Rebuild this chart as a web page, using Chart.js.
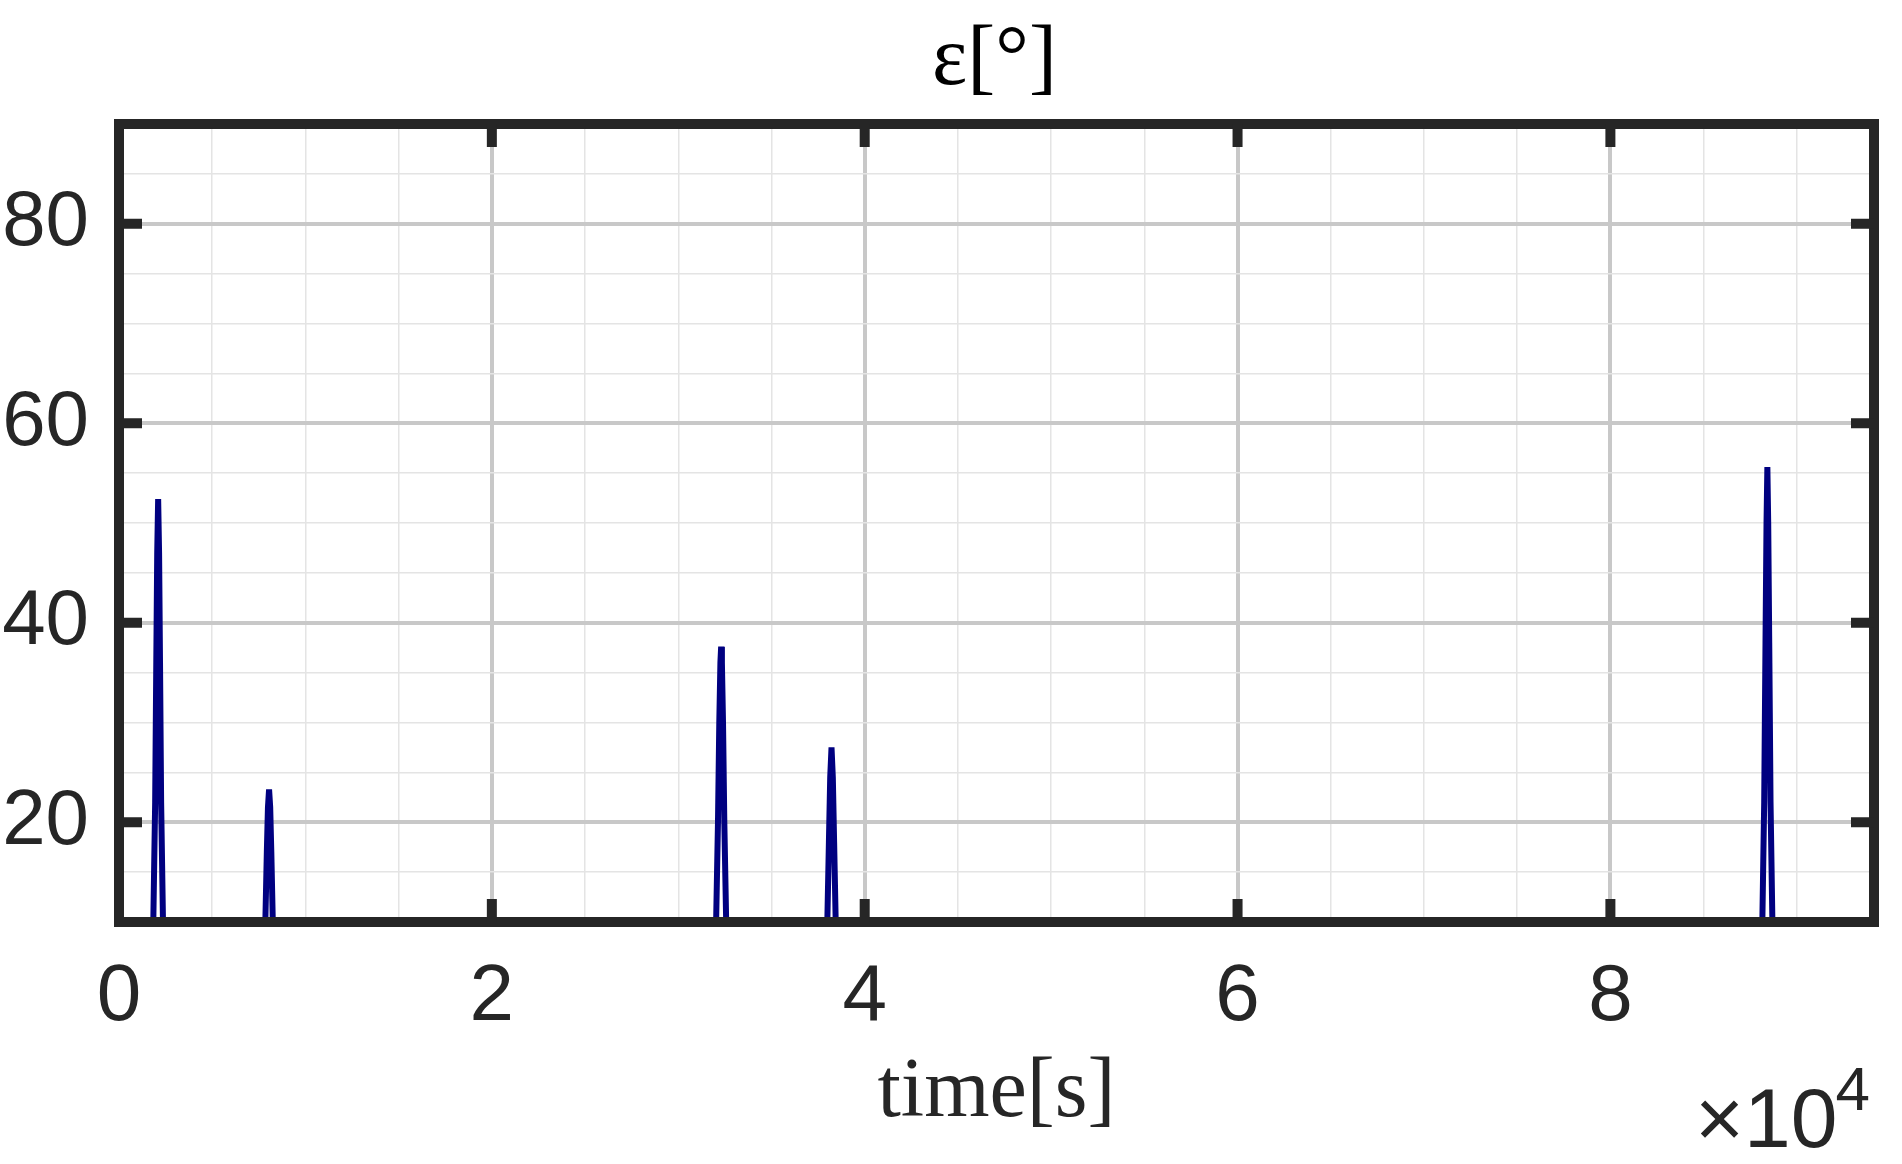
<!DOCTYPE html>
<html>
<head>
<meta charset="utf-8">
<script src="https://cdn.jsdelivr.net/npm/chart.js@4/dist/chart.umd.min.js"></script>
<style>
  html, body { margin: 0; padding: 0; background: #fff; }
  canvas { display: block; }
</style>
</head>
<body>
<canvas id="grafico" width="1902" height="1164"></canvas>
<script>
// elevation passes, time in seconds, elevation in degrees
const timeS = [
  1200, 1600, 1840, 1940, 2000, 2050, 2100, 2150, 2200, 2260, 2360, 2600, 3000,
  7400, 7700, 7850, 7930, 7990, 8050, 8110, 8170, 8250, 8400, 8700,
  31500, 31800, 32030, 32130, 32200, 32260, 32300, 32340, 32400, 32470, 32570, 32800, 33100,
  37500, 37800, 37995, 38080, 38150, 38220, 38290, 38360, 38445, 38650, 38950,
  87600, 87900, 88150, 88250, 88320, 88375, 88420, 88465, 88520, 88590, 88690, 88950, 89250
];
const elevDeg = [
  -30, -8, 10, 22, 36, 47, 52.4, 47, 36, 22, 10, -8, -30,
  -30, -10, 10, 17, 21.5, 23.3, 21.5, 17, 10, -10, -30,
  -30, -10, 10, 20, 30, 36, 37.6, 36, 30, 20, 10, -10, -30,
  -30, -10, 10, 18, 24.5, 27.5, 24.5, 18, 10, -10, -30,
  -30, -10, 10, 22, 38, 50, 55.6, 50, 38, 22, 10, -10, -30
];

// axes
const xMin = 0, xMax = 94140;
const yMin = 10, yMax = 90;
const xMajorTicks = [0, 20000, 40000, 60000, 80000];
const yMajorTicks = [20, 40, 60, 80];
const xMinorStep = 5000;
const yMinorStep = 5;

const tituloTexto = 'ε[°]';
const rotuloX = 'time[s]';

const corFrame = '#262626';
const corLinha = '#000080';

function passos(min, max, step) {
  const out = [];
  for (let v = min; v <= max + 1e-9; v += step) out.push({ value: v });
  return out;
}

// frame, inner ticks, title, labels
const molduraPlugin = {
  id: 'moldura',
  afterDatasetsDraw(chart) {
    const { ctx, chartArea: a, scales } = chart;
    ctx.save();
    ctx.strokeStyle = corFrame;
    ctx.fillStyle = corFrame;
    ctx.lineWidth = 10;
    ctx.strokeRect(a.left, a.top, a.right - a.left, a.bottom - a.top);
    const len = 23;
    xMajorTicks.forEach(v => {
      const px = scales.x.getPixelForValue(v);
      ctx.fillRect(px - 5, a.top, 10, len);
      ctx.fillRect(px - 5, a.bottom - len, 10, len);
    });
    yMajorTicks.forEach(v => {
      const py = scales.y.getPixelForValue(v);
      ctx.fillRect(a.left, py - 5, len, 10);
      ctx.fillRect(a.right - len, py - 5, len, 10);
    });
    ctx.restore();
  },
  afterDraw(chart) {
    const { ctx, chartArea: a } = chart;
    const cx = (a.left + a.right) / 2;
    ctx.save();
    ctx.fillStyle = '#000';
    ctx.textAlign = 'center';
    ctx.textBaseline = 'alphabetic';
    ctx.font = '84px "Liberation Serif"';
    ctx.fillText(tituloTexto, cx - 2, 84);
    ctx.fillStyle = corFrame;
    ctx.font = '84px "Liberation Serif"';
    ctx.fillText(rotuloX, cx, 1116);
    // exponent
    ctx.textAlign = 'right';
    ctx.font = '62px "Liberation Sans"';
    const w4 = ctx.measureText('4').width;
    ctx.fillText('4', 1870, 1110);
    ctx.font = '84px "Liberation Sans"';
    ctx.fillText('×10', 1870 - w4 + 2, 1147);
    ctx.restore();
  }
};

const ctx = document.getElementById('grafico').getContext('2d');
new Chart(ctx, {
  type: 'line',
  data: {
    datasets: [{
      data: timeS.map((t, i) => ({ x: t, y: elevDeg[i] })),
      borderColor: corLinha,
      borderWidth: 6,
      pointRadius: 0,
      tension: 0,
      fill: false,
      clip: 0
    }]
  },
  options: {
    responsive: false,
    animation: false,
    layout: { padding: { left: 0, top: 124, right: 28, bottom: 0 } },
    plugins: { legend: { display: false }, tooltip: { enabled: false }, title: { display: false } },
    scales: {
      x: {
        type: 'linear',
        min: xMin,
        max: xMax,
        afterBuildTicks: s => { s.ticks = passos(xMin, xMax, xMinorStep); },
        afterFit: s => { s.height = 242; },
        border: { display: false },
        grid: {
          drawTicks: false,
          color: c => (c.tick && c.tick.value % 20000 === 0) ? '#c8c8c8' : '#e4e4e4',
          lineWidth: c => (c.tick && c.tick.value % 20000 === 0) ? 4 : 1.5
        },
        ticks: {
          autoSkip: false,
          maxRotation: 0,
          padding: 28,
          color: corFrame,
          font: { family: 'Liberation Sans', size: 80 },
          callback: v => (v % 20000 === 0 ? String(v / 10000) : '')
        }
      },
      y: {
        type: 'linear',
        min: yMin,
        max: yMax,
        afterBuildTicks: s => { s.ticks = passos(yMin, yMax, yMinorStep); },
        afterFit: s => { s.width = 119; },
        border: { display: false },
        grid: {
          drawTicks: false,
          color: c => (c.tick && yMajorTicks.includes(c.tick.value)) ? '#c8c8c8' : '#e4e4e4',
          lineWidth: c => (c.tick && yMajorTicks.includes(c.tick.value)) ? 4 : 1.5
        },
        ticks: {
          autoSkip: false,
          padding: 30,
          color: corFrame,
          font: { family: 'Liberation Sans', size: 78 },
          callback: v => (yMajorTicks.includes(v) ? String(v) : '')
        }
      }
    }
  },
  plugins: [molduraPlugin]
});
</script>
</body>
</html>
